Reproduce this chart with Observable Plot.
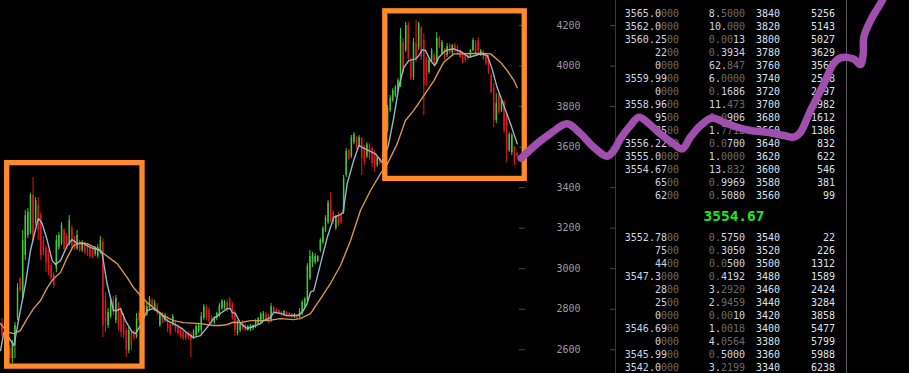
<!DOCTYPE html>
<html>
<head>
<meta charset="utf-8">
<script src="https://cdn.jsdelivr.net/npm/d3@7"></script>
<script src="https://cdn.jsdelivr.net/npm/@observablehq/plot@0.6"></script>
<style>
  html, body { margin: 0; padding: 0; background: #000; }
  #wrap { position: relative; width: 909px; height: 373px; overflow: hidden; background: #000; }
  #wrap svg { position: absolute; left: 0; top: 0; }
  #book { position: absolute; left: 615px; top: 0; width: 230px; height: 373px;
          border-left: 1px solid #3a3a3a; border-right: 1px solid #5a5a5a;
          font-family: "DejaVu Sans Mono", monospace; font-size: 10px; color: #cdd5e3; }
  .row { position: absolute; left: 0; width: 230px; height: 13px; line-height: 13px; white-space: pre; }
  .row span.c { position: absolute; top: 0; }
  .c1 { left: 0; width: 63px; text-align: right; }
  .c2 { left: 63px; width: 66px; text-align: right; }
  .c3 { left: 140px; width: 30px; text-align: left; color: #dde2ea; }
  .c4 { left: 164px; width: 55px; text-align: right; color: #dde2ea; }
  .dim { color: #6c6c6c; }
  #mid { position: absolute; left: 118px; top: 206px; height: 20px; line-height: 20px;
         transform: translateX(-50%); font-size: 14.5px; font-weight: bold; color: #1fe41f; white-space: pre; }
</style>
</head>
<body>
<div id="wrap"><div id="book"></div></div>
<script>
// ---- candle data (price) ----
const open = [2729,2695,2655,2606,2557,2621,2754,2951,2853,3065,
3164,3178,3361,3228,3312,3262,3139,3099,3065,3016,
2966,3001,3104,3124,3188,3159,3124,3198,3139,3099,
3129,3090,3119,3109,3099,3090,3070,3060,3080,3129,
2843,2720,2764,2843,2744,2823,2794,2764,2695,2596,
2680,2685,2665,2779,2754,2794,2774,2803,2843,2798,
2818,2720,2774,2744,2754,2724,2724,2729,2715,2700,
2690,2680,2680,2675,2660,2670,2690,2695,2754,2808,
2794,2759,2734,2754,2769,2803,2808,2833,2848,2823,
2774,2680,2695,2734,2720,2695,2700,2705,2715,2724,
2734,2749,2774,2764,2744,2808,2798,2794,2784,2769,
2784,2779,2774,2759,2769,2759,2784,2813,2843,2951,
3030,3030,3035,3090,3129,3188,3228,3336,3277,3198,
3267,3262,3277,3460,3583,3553,3622,3642,3603,3642,
3603,3553,3612,3593,3573,3509,3543,3534,3524,3682,
3780,3830,3854,3879,3904,4116,4076,4200,4027,3943,
4111,4091,4185,4126,4027,3968,4027,4052,4017,4136,
4062,4076,4052,4101,4066,4101,4091,4076,4057,4057,
4052,4042,4076,4111,4126,4052,4071,4052,4037,3953,
3889,3731,3854,3780,3820,3741,3583,3573,3598,3568];
const close = [2670,2646,2621,2557,2636,2720,2902,2892,3139,3262,
3277,3361,3139,3336,3188,3065,3080,3030,2991,2951,
2917,3139,3164,3213,3099,3119,3238,3114,3104,3164,
3090,3129,3080,3075,3060,3060,3099,3104,3139,2720,
2734,2784,2843,2784,2853,2720,2685,2670,2596,2695,
2621,2660,2754,2744,2794,2774,2813,2853,2808,2828,
2779,2779,2739,2769,2705,2680,2764,2695,2680,2665,
2655,2655,2660,2646,2690,2715,2720,2764,2813,2759,
2739,2734,2754,2779,2818,2838,2833,2798,2803,2754,
2695,2734,2724,2705,2695,2715,2720,2720,2744,2754,
2774,2779,2749,2734,2813,2784,2779,2779,2769,2789,
2764,2764,2759,2774,2754,2789,2833,2848,3011,3060,
3070,3060,3060,3139,3198,3252,3326,3238,3228,3257,
3218,3228,3445,3578,3543,3647,3662,3598,3647,3543,
3524,3612,3543,3519,3494,3548,3519,3514,3682,3790,
3840,3879,3894,3928,4150,3978,4200,4037,3933,4116,
4027,4210,4042,3904,3953,4027,4076,4002,4136,4091,
4116,4037,4096,4066,4101,4076,4062,4042,4017,4027,
4037,4076,4126,4062,4076,4076,4037,4012,3968,3869,
3731,3815,3770,3830,3682,3583,3662,3657,3524,3555];
const high = [2754,2720,2670,2621,2646,2734,2927,2956,3188,3287,
3297,3371,3450,3351,3351,3277,3159,3114,3090,3030,
2981,3164,3178,3228,3198,3173,3262,3213,3159,3188,
3139,3139,3129,3124,3114,3104,3109,3119,3159,3149,
2882,2803,2858,2863,2868,2833,2808,2779,2705,2710,
2695,2695,2779,2789,2813,2818,2828,2863,2853,2843,
2828,2784,2784,2779,2764,2734,2774,2739,2724,2710,
2695,2685,2690,2685,2700,2724,2729,2784,2823,2818,
2808,2769,2764,2784,2828,2848,2843,2848,2858,2833,
2794,2744,2734,2744,2724,2720,2724,2724,2749,2759,
2784,2789,2784,2774,2828,2813,2803,2798,2789,2794,
2789,2784,2779,2779,2774,2803,2843,2858,3025,3090,
3080,3075,3065,3149,3208,3262,3336,3376,3287,3262,
3277,3272,3460,3593,3588,3657,3672,3652,3657,3647,
3608,3622,3617,3598,3583,3553,3548,3543,3691,3805,
3854,3889,3904,3938,4185,4136,4215,4215,4037,4136,
4224,4215,4195,4160,4042,4037,4086,4062,4165,4146,
4126,4086,4111,4111,4106,4111,4101,4081,4066,4066,
4062,4081,4136,4126,4141,4081,4076,4062,4052,3963,
3914,3864,3864,3840,3830,3765,3672,3667,3603,3573];
const low = [2660,2611,2596,2532,2532,2557,2744,2882,2843,3040,
3149,3169,3129,3213,3139,3040,3065,2981,2966,2932,
2902,2981,3090,3114,3090,3109,3114,3099,3090,3090,
3080,3080,3070,3060,3050,3050,3060,3050,3070,2660,
2685,2705,2754,2769,2729,2695,2660,2655,2562,2581,
2596,2646,2655,2734,2744,2764,2764,2794,2798,2789,
2769,2710,2729,2734,2685,2670,2715,2685,2670,2655,
2646,2646,2650,2562,2650,2660,2680,2670,2744,2744,
2729,2724,2724,2744,2759,2794,2798,2784,2794,2744,
2670,2670,2685,2695,2690,2690,2690,2695,2705,2720,
2729,2744,2744,2729,2734,2779,2774,2774,2764,2764,
2759,2759,2754,2754,2749,2754,2769,2803,2833,2942,
3006,3020,3030,3080,3119,3178,3218,3228,3218,3188,
3208,3218,3267,3450,3534,3543,3612,3588,3598,3460,
3509,3543,3534,3499,3474,3499,3509,3504,3514,3672,
3770,3820,3845,3869,3894,3963,4066,4017,3928,3928,
4017,4076,4027,3756,3904,3958,4017,3992,4007,4086,
4052,4027,4042,4057,4057,4066,4052,4037,4012,4017,
4027,4037,4071,4052,4066,4047,4027,4002,3958,3864,
3696,3716,3760,3770,3667,3524,3573,3558,3509,3548];

// moving averages: [candle index, price]
const maShort = [[-0.58,2596],[0.7,2685],[2.6,2660],[4.6,2621],[7.1,2794],[9.1,2927],[11.0,3090],[13.6,3229],[14.1,3248],[15.5,3223],
[17.5,3139],[19.4,3040],[20.7,3021],[22.6,3040],[25.2,3114],[27.1,3144],[29.1,3124],[31.6,3124],[34.2,3104],[38.1,3090],
[38.7,3075],[40.6,2927],[43.1,2794],[44.5,2794],[45.8,2803],[47.7,2744],[50.3,2687],[51.6,2680],[53.5,2720],[56.1,2794],
[58.5,2803],[61.2,2779],[63.8,2744],[66.3,2729],[69.6,2705],[71.6,2682],[74,2660],[76.7,2670],[79.3,2711],[81.7,2754],
[84.4,2779],[87,2803],[88.3,2803],[88.9,2785],[90.2,2779],[92.2,2729],[94.7,2705],[97.2,2715],[99.9,2729],[101.1,2744],
[103.7,2759],[105,2785],[107.6,2780],[110.2,2769],[114.1,2769],[116,2785],[117.9,2828],[119.2,2884],[120.5,2892],[123.1,3025],
[125.7,3155],[128.2,3254],[130.8,3267],[131.8,3279],[133.4,3420],[135.9,3534],[137.9,3608],[139.2,3599],[141.7,3583],[144.3,3567],
[146.9,3525],[149.3,3608],[151.4,3747],[153.3,3895],[155.3,3994],[157.2,4027],[159.8,4035],[161.1,4052],[162.4,4080],[163.6,4077],
[165.6,4027],[167.2,4002],[168.8,4043],[171.4,4077],[174.6,4085],[177.8,4068],[180.3,4043],[182.9,4052],[184.9,4060],[187.5,4052],
[189.4,3986],[191.3,3895],[193.9,3805],[196.5,3715],[199.1,3616]];
const maLong = [[-0.58,2729],[2.0,2687],[4.6,2680],[7.1,2695],[9.7,2754],[12.2,2803],[14.9,2843],[17.5,2907],[19.9,2951],[22.6,2981],
[25.2,3055],[27.6,3114],[30.3,3129],[32.9,3124],[36.8,3099],[39.2,3075],[41.9,3050],[44.5,3025],[48.4,2956],[50.8,2907],
[53.5,2868],[56.1,2833],[60,2794],[62.4,2769],[66.3,2744],[70.1,2734],[76.7,2729],[81.7,2720],[84.4,2720],[87,2725],
[89.4,2736],[92.2,2734],[96,2744],[102.5,2744],[107.6,2754],[112.6,2749],[115.3,2754],[119.2,2779],[123.1,2853],[126.9,2927],
[130.8,3016],[134.7,3139],[138.5,3287],[142.4,3386],[146.3,3470],[148.8,3514],[152.7,3616],[155.9,3731],[159.1,3781],[163,3854],
[166.9,3928],[170.7,4019],[174.6,4060],[177.2,4060],[184.9,4063],[188.8,4060],[192.6,4019],[195.2,3978],[197.8,3929],[199.1,3893]];

// hand-drawn annotations: [candle index, price]
const markerBoxes = [[2.0, 54.3, 2517, 3521], [148.1, 202.0, 3443, 4270]];
const purpleStroke = [[200.6,3545],[207.4,3624],[211.9,3667],[218.4,3715],[223.5,3667],[228.7,3599],[233.8,3555],[236.4,3583],
[239,3642],[242.8,3706],[246.1,3747],[249.3,3723],[254.4,3665],[259.6,3616],[262.8,3591],[266,3649],[269.9,3706],[274.4,3744],
[278.9,3723],[284.1,3698],[289.2,3682],[295.7,3673],[302.1,3657],[306,3649],[308.5,3673],[312.4,3780],[317.6,3912],[321.3,4011],
[324,4040],[329.1,4035],[331.7,4007],[332.8,4060],[333,4142],[335.6,4224],[338.2,4282],[340.1,4323],[341.8,4372]];

const yTicks = [2600, 2800, 3000, 3200, 3400, 3600, 3800, 4000, 4200];

// ---- order book ----
const askPx  = ["3565.0000","3562.0000","3560.2500","2200","0000","3559.9900","0000","3558.9600","9500","8500","3556.2200","3555.0000","3554.6700","6500","6200"];
const askAmt = ["8.5000","10.000","0.0013","0.3934","62.847","6.0000","0.1686","11.473","0.0906","1.7712","0.0700","1.0000","13.832","0.9969","0.5080"];
const askLvl = [3840,3820,3800,3780,3760,3740,3720,3700,3680,3660,3640,3620,3600,3580,3560];
const askCum = [5256,5143,5027,3629,3567,2538,2297,1982,1612,1386,832,622,546,381,99];
const lastPrice = "3554.67";
const bidPx  = ["3552.7800","7500","4400","3547.3000","2800","2500","0000","3546.6900","0000","3545.9900","3542.0000"];
const bidAmt = ["0.5750","0.3050","0.0500","0.4192","3.2920","2.9459","0.0010","1.0018","4.0564","0.5000","3.2199"];
const bidLvl = [3540,3520,3500,3480,3460,3440,3420,3400,3380,3360,3340];
const bidCum = [22,226,1312,1589,2424,3284,3858,5477,5799,5988,6238];

// ---- colours ----
const GREEN = "#3ecb34", RED = "#e3161b", MA_S = "#93b6cb", MA_L = "#d8964b";
const BOX = "#ff8a2b", PURPLE = "#a04fae";

const candles = open.map((o, i) => ({i, open: o, close: close[i], high: high[i], low: low[i]}));
const up = d => d.close >= d.open;
const down = d => d.close < d.open;

const base = {
  width: 909, height: 373,
  marginLeft: 0, marginRight: 391, marginTop: 0, marginBottom: 0,
  x: {domain: [-0.58, 199.58], axis: null},
  y: {domain: [2483.1, 4323.3], axis: null},
  style: {background: "transparent", fontFamily: "DejaVu Sans Mono, monospace", fontSize: "10px", overflow: "visible"}
};

const chart = Plot.plot({
  ...base,
  marks: [
    Plot.ruleX(candles, {filter: up, x: "i", y1: "low", y2: "high", stroke: GREEN, strokeWidth: 1}),
    Plot.ruleX(candles, {filter: down, x: "i", y1: "low", y2: "high", stroke: RED, strokeWidth: 1}),
    Plot.ruleX(candles, {filter: up, x: "i", y1: "open", y2: "close", stroke: GREEN, strokeWidth: 1.5}),
    Plot.ruleX(candles, {filter: down, x: "i", y1: "open", y2: "close", stroke: RED, strokeWidth: 1.5}),
    Plot.line(maLong, {x: d => d[0], y: d => d[1], stroke: MA_L, strokeWidth: 1.4}),
    Plot.line(maShort, {x: d => d[0], y: d => d[1], stroke: MA_S, strokeWidth: 1.4}),
    Plot.axisY({ticks: yTicks, anchor: "right", tickSize: 6, tickPadding: 32, stroke: "#4a4a4a", fill: "#9c9c9c", tickFormat: d => String(d), label: null}),
    Plot.axisY({ticks: yTicks, anchor: "right", tickSize: 6, dx: 91, stroke: "#4a4a4a", tickFormat: () => "", label: null})
  ]
});

const overlay = Plot.plot({
  ...base,
  marks: [
    Plot.rect(markerBoxes, {x1: d => d[0], x2: d => d[1], y1: d => d[2], y2: d => d[3], fill: "none", stroke: BOX, strokeWidth: 5.3}),
    Plot.line(purpleStroke, {x: d => d[0], y: d => d[1], stroke: PURPLE, strokeWidth: 7.5, curve: "catmull-rom", strokeLinecap: "round", strokeLinejoin: "round"})
  ]
});
overlay.style.pointerEvents = "none";

function splitPx(s) {
  let b = s.replace(/0+$/, "");
  if (b.endsWith(".")) b += "0";
  if (b === "") b = "0";
  return `${b}<span class="dim">${s.slice(b.length)}</span>`;
}
function splitAmt(s) {
  if (s.startsWith("0.")) {
    const pre = s.match(/^0\.0*/)[0];
    return `<span class="dim">${pre}</span>${s.slice(pre.length)}`;
  }
  const k = s.indexOf(".") + 1;
  return `${s.slice(0, k)}<span class="dim">${s.slice(k)}</span>`;
}

const book = document.getElementById("book");
function addRow(top, px, amt, lvl, cum) {
  const r = document.createElement("div");
  r.className = "row";
  r.style.top = top + "px";
  r.innerHTML = `<span class="c c1">${splitPx(px)}</span><span class="c c2">${splitAmt(amt)}</span><span class="c c3">${lvl}</span><span class="c c4">${cum}</span>`;
  book.appendChild(r);
}
askPx.forEach((p, k) => addRow(6.5 + 13 * k, p, askAmt[k], askLvl[k], askCum[k]));
bidPx.forEach((p, k) => addRow(230.5 + 13 * k, p, bidAmt[k], bidLvl[k], bidCum[k]));
const mid = document.createElement("div");
mid.id = "mid";
mid.textContent = lastPrice;
book.appendChild(mid);

const wrap = document.getElementById("wrap");
wrap.insertBefore(chart, book);
wrap.appendChild(overlay);
</script>
</body>
</html>
